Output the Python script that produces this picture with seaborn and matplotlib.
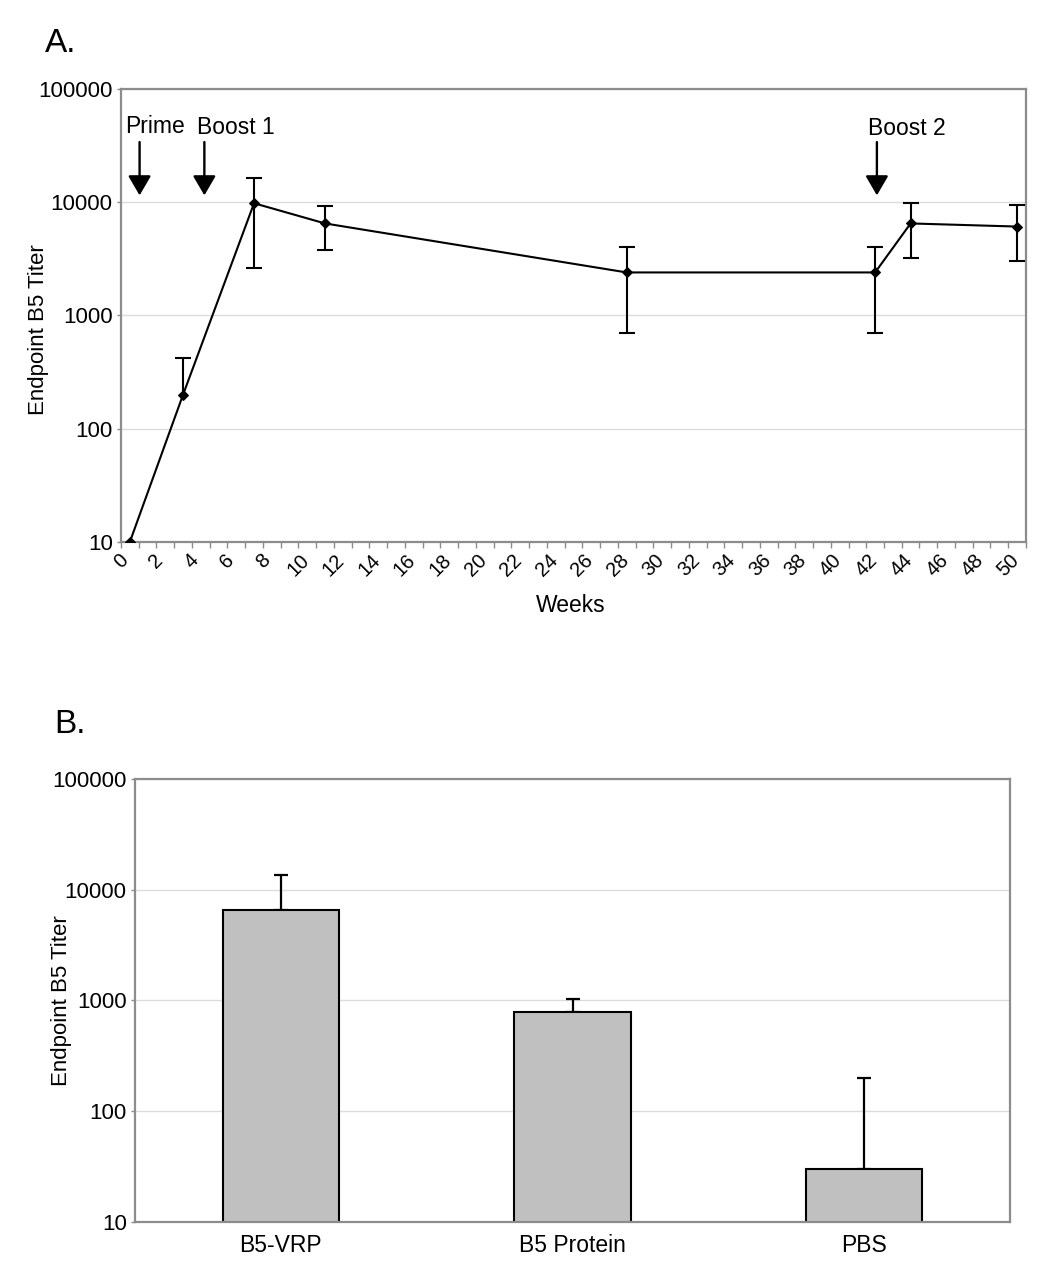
import matplotlib
matplotlib.use("Agg")
import matplotlib.pyplot as plt
from matplotlib.ticker import FixedLocator, FuncFormatter, NullLocator, MultipleLocator
import seaborn as sns
import numpy as np

# ---------------------------
# Data
# ---------------------------

# Panel A: titer over time
weeks = [0.5, 3.5, 7.5, 11.5, 28.5, 42.5, 44.5, 50.5]
titer = [10, 200, 9800, 6500, 2400, 2400, 6500, 6100]
titer_low = [10, 200, 2650, 3750, 700, 700, 3200, 3000]
titer_high = [10, 420, 16500, 9200, 4050, 4050, 9800, 9400]

event_labels = ["Prime", "Boost 1", "Boost 2"]
event_weeks = [1.05, 4.7, 42.6]

# Panel B: endpoint titer by group
groups = ["B5-VRP", "B5 Protein", "PBS"]
group_titer = [6500, 780, 30]
group_high = [13700, 1030, 200]

# ---------------------------
# Styling
# ---------------------------

sns.set_style("white")
plt.rcParams["font.family"] = ["Liberation Sans", "DejaVu Sans"]
plt.rcParams["text.color"] = "black"
plt.rcParams["axes.labelcolor"] = "black"
plt.rcParams["xtick.color"] = "black"
plt.rcParams["ytick.color"] = "black"

SPINE = "#8c8c8c"
GRID = "#dcdcdc"


def style_log_axis(ax):
    ax.set_yscale("log")
    ax.set_ylim(10, 100000)
    ax.yaxis.set_major_locator(FixedLocator([10, 100, 1000, 10000, 100000]))
    ax.yaxis.set_minor_locator(NullLocator())
    ax.yaxis.set_major_formatter(FuncFormatter(lambda v, p: f"{int(round(v))}"))
    ax.grid(axis="y", color=GRID, lw=1.0)
    ax.grid(axis="x", visible=False)
    ax.set_axisbelow(True)
    for s in ax.spines.values():
        s.set_color(SPINE)
        s.set_linewidth(1.6)
    ax.tick_params(axis="y", which="major", length=3, width=1, color=SPINE,
                   labelcolor="black", labelsize=16, pad=3, left=True)


fig = plt.figure(figsize=(10.5, 12.75), dpi=100)

# ---------------------------
# Panel A
# ---------------------------

ax1 = fig.add_axes([0.1152, 0.5749, 0.8619, 0.3553])
style_log_axis(ax1)

sns.lineplot(x=weeks, y=titer, ax=ax1, color="black", lw=1.5,
             marker="D", markersize=5.5, markeredgecolor="black", zorder=4)

# error bars: whiskers without caps, caps drawn as markers so that
# points without a lower error get no cap on the point itself
y_arr = np.array(titer, dtype=float)
lo_arr = np.array(titer_low, dtype=float)
hi_arr = np.array(titer_high, dtype=float)
ax1.errorbar(weeks, titer, yerr=[y_arr - lo_arr, hi_arr - y_arr], fmt="none",
             ecolor="black", elinewidth=1.5, capsize=0, zorder=3)
has_hi = np.where(hi_arr > y_arr, hi_arr, np.nan)
has_lo = np.where(lo_arr < y_arr, lo_arr, np.nan)
for caps in (has_hi, has_lo):
    ax1.plot(weeks, caps, ls="none", marker="_", ms=12, mew=1.5,
             color="black", zorder=3)

ax1.set_xlim(0, 51)
ax1.xaxis.set_major_locator(MultipleLocator(2))
ax1.xaxis.set_minor_locator(MultipleLocator(1))
ax1.tick_params(axis="x", which="both", length=4, width=1, color=SPINE,
                labelcolor="black", labelsize=14.5, pad=2, bottom=True)
for lbl in ax1.get_xticklabels():
    lbl.set_rotation(45)
    lbl.set_ha("center")

for name, wk in zip(event_labels, event_weeks):
    ax1.annotate("", xy=(wk, 11500), xytext=(wk, 34000),
                 arrowprops=dict(arrowstyle="-|>,head_length=0.6,head_width=0.35",
                                 mutation_scale=20, color="black", lw=1.7,
                                 shrinkA=0, shrinkB=0))
text_pos = [(1.9, 47000), (6.5, 46000), (44.3, 44500)]
for name, (tx, ty) in zip(event_labels, text_pos):
    ax1.text(tx, ty, name, ha="center", va="center", fontsize=16.5)

ax1.set_xlabel("Weeks", fontsize=16.5)
ax1.xaxis.set_label_coords(0.497, -0.115)
ax1.set_ylabel("Endpoint B5 Titer", fontsize=16)
ax1.yaxis.set_label_coords(-0.0795, 0.468)

fig.text(45 / 1050, 1 - 52 / 1275, "A.", fontsize=24, ha="left", va="baseline")

# ---------------------------
# Panel B
# ---------------------------

ax2 = fig.add_axes([0.1286, 0.0416, 0.8333, 0.3475])
style_log_axis(ax2)

sns.barplot(x=groups, y=group_titer, ax=ax2, color="#c0c0c0",
            edgecolor="black", linewidth=1.5, width=0.4, saturation=1, zorder=2)

g_arr = np.array(group_titer, dtype=float)
ax2.errorbar(range(len(groups)), group_titer,
             yerr=[np.zeros_like(g_arr), np.array(group_high) - g_arr],
             fmt="none", ecolor="black", elinewidth=1.6, capsize=5,
             capthick=1.6, zorder=1)

style_log_axis(ax2)
ax2.set_xlim(-0.5, len(groups) - 0.5)
ax2.tick_params(axis="x", length=0, labelsize=16.5, labelcolor="black", pad=9)
ax2.set_xlabel("")
ax2.set_ylabel("Endpoint B5 Titer", fontsize=16)
ax2.yaxis.set_label_coords(-0.072, 0.5)

fig.text(54 / 1050, 1 - 733 / 1275, "B.", fontsize=24, ha="left", va="baseline")

fig.savefig("out.png", dpi=100)
